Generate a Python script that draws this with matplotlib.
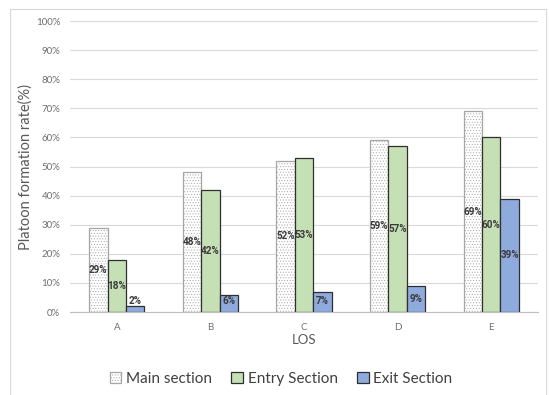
import matplotlib.pyplot as plt
import numpy as np
from matplotlib.patches import Rectangle

plt.rcParams['hatch.linewidth'] = 0.4
plt.rcParams['font.family'] = ['Lato', 'DejaVu Sans']

los = ['A', 'B', 'C', 'D', 'E']
main_section = [29, 48, 52, 59, 69]
entry_section = [18, 42, 53, 57, 60]
exit_section = [2, 6, 7, 9, 39]

fig = plt.figure(figsize=(5.49, 3.95), dpi=100)
ax = fig.add_axes([0.1275, 0.2101, 0.8525, 0.7367])

# light frame round the chart, open at the bottom edge of the image
fig.patches.append(Rectangle((10 / 549, -0.02), 536 / 549, 1.02 - 9 / 395,
                             transform=fig.transFigure, fill=False,
                             edgecolor='#D9D9D9', linewidth=0.8))

x = np.arange(len(los))
w = 0.197
series = [
    (main_section, 'Main section', dict(facecolor='white', edgecolor='#A6A6A6', hatch='......')),
    (entry_section, 'Entry Section', dict(facecolor='#C5E0B4', edgecolor='#2F2F2F')),
    (exit_section, 'Exit Section', dict(facecolor='#8FAADC', edgecolor='#2F2F2F')),
]

for i, (vals, name, style) in enumerate(series):
    bars = ax.bar(x + (i - 1) * w, vals, w, label=name, linewidth=0.9, zorder=2, **style)
    for bar, v in zip(bars, vals):
        y = max(v / 2, 3.8)
        ax.text(bar.get_x() + bar.get_width() / 2, y, f'{v}%', ha='center', va='center',
                fontsize=7.1, color='#3A3A3A', fontweight='bold',
                family=['Roboto', 'DejaVu Sans'], zorder=3)

ax.set_xlim(-0.5, len(los) - 0.5)
ax.set_ylim(0, 100)
ax.set_yticks(range(0, 101, 10))
ax.set_yticklabels([f'{t}%' for t in range(0, 101, 10)])
ax.set_xticks(x)
ax.set_xticklabels(los)
ax.tick_params(axis='y', length=0, labelsize=7, colors='#6E6E6E', pad=7)
ax.tick_params(axis='x', length=0, labelsize=7, colors='#6E6E6E', pad=8)
ax.grid(axis='y', color='#D9D9D9', linewidth=0.8, zorder=0)
for s in ['top', 'right', 'left']:
    ax.spines[s].set_visible(False)
ax.spines['bottom'].set_color('#BFBFBF')
ax.set_axisbelow(True)

ax.set_xlabel('LOS', fontsize=9.5, color='#595959', labelpad=1)
ax.set_ylabel('Platoon formation rate(%)', fontsize=10.5, color='#595959', labelpad=2)

ax.legend(loc='center', bbox_to_anchor=(0.451, -0.23), ncol=3, frameon=False,
          fontsize=11, handlelength=0.75, handleheight=0.75, handletextpad=0.3,
          columnspacing=1.3, labelcolor='#404040')

fig.savefig('out.png', dpi=100)
